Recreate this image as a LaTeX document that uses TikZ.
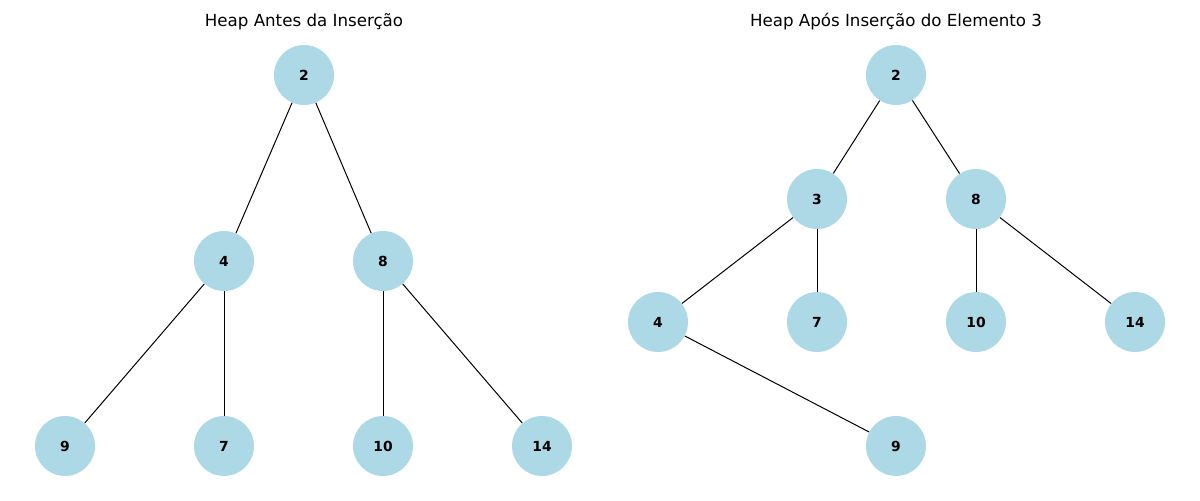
\documentclass[tikz,border=0pt]{standalone}
\usepackage{fontspec}
\setmainfont{DejaVu Sans}
\definecolor{lblue}{HTML}{ADD8E6}
\begin{document}
\begin{tikzpicture}[x=0.75pt,y=-0.75pt,
  hnode/.style={circle,fill=lblue,draw=none,minimum size=45pt,inner sep=0pt,font=\fontsize{10.4}{12}\selectfont\bfseries},
  edge/.style={draw=black,line width=0.75pt},
  title/.style={font=\fontsize{12.5}{15}\selectfont}]
\useasboundingbox (0,0) rectangle (1200,500);
\node[title] (t1) at (304,22) {Heap Antes da Inserção};
\node[title] (t2) at (896,22) {Heap Após Inserção do Elemento 3};
% left tree
\node[hnode] (a2) at (304,75) {2};
\node[hnode] (a4) at (224,261) {4};
\node[hnode] (a8) at (383,261) {8};
\node[hnode] (a9) at (65,446) {9};
\node[hnode] (a7) at (224,446) {7};
\node[hnode] (a10) at (383,446) {10};
\node[hnode] (a14) at (542,446) {14};
\draw[edge] (a2) -- (a4);
\draw[edge] (a2) -- (a8);
\draw[edge] (a4) -- (a9);
\draw[edge] (a4) -- (a7);
\draw[edge] (a8) -- (a10);
\draw[edge] (a8) -- (a14);
% right tree
\node[hnode] (b2) at (896,75) {2};
\node[hnode] (b3) at (817,199) {3};
\node[hnode] (b8) at (976,199) {8};
\node[hnode] (b4) at (658,322) {4};
\node[hnode] (b7) at (817,322) {7};
\node[hnode] (b10) at (976,322) {10};
\node[hnode] (b14) at (1135,322) {14};
\node[hnode] (b9) at (896,446) {9};
\draw[edge] (b2) -- (b3);
\draw[edge] (b2) -- (b8);
\draw[edge] (b3) -- (b4);
\draw[edge] (b3) -- (b7);
\draw[edge] (b8) -- (b10);
\draw[edge] (b8) -- (b14);
\draw[edge] (b4) -- (b9);
\end{tikzpicture}
\end{document}
